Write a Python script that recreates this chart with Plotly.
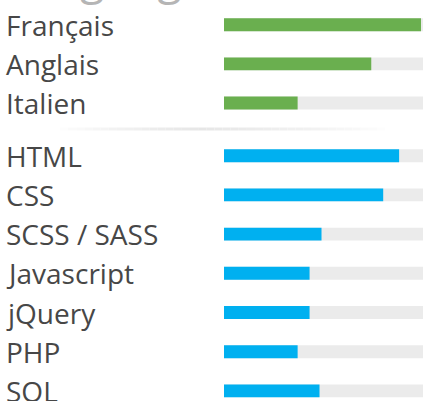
import plotly.graph_objects as go

W, H = 423, 401

title_text = "Languages"
lang_labels = ["Français", "Anglais", "Italien"]
lang_values = [99, 74, 37]
skill_labels = ["HTML", "CSS", "SCSS / SASS", "Javascript", "jQuery", "PHP", "SOL"]
skill_values = [88, 80, 49, 43, 43, 37, 48]
scale_max = 100

GREEN = "#6aaf4f"
BLUE = "#00b0f0"
TRACK = "#ebebeb"
TEXT = "#474747"
FONT = "Open Sans"

fig = go.Figure()

def add_group(labels, values, color, yaxis):
    xa = "x" if yaxis == "y" else "x2"
    fig.add_trace(go.Bar(
        y=labels, x=[scale_max] * len(labels), orientation="h",
        marker=dict(color=TRACK, line=dict(width=0)), width=0.33,
        xaxis=xa, yaxis=yaxis, hoverinfo="skip", showlegend=False))
    fig.add_trace(go.Bar(
        y=labels, x=values, orientation="h",
        marker=dict(color=color, line=dict(width=0)), width=0.33,
        xaxis=xa, yaxis=yaxis, showlegend=False))

add_group(lang_labels, lang_values, GREEN, "y")
add_group(skill_labels, skill_values, BLUE, "y2")

x0 = 224 / W
top_dom = [(H - 122.6) / H, (H - 5.1) / H]
bot_dom = [0, (H - 136.1) / H]
bot_units = (H - 136.1) / 39.2

axis_common = dict(showgrid=False, zeroline=False, showticklabels=False,
                   showline=False, ticks="")
fig.update_layout(
    width=W, height=H,
    margin=dict(l=0, r=0, t=0, b=0),
    paper_bgcolor="white", plot_bgcolor="white",
    barmode="overlay",
    xaxis=dict(domain=[x0, 1], range=[0, scale_max], anchor="y", **axis_common),
    xaxis2=dict(domain=[x0, 1], range=[0, scale_max], anchor="y2", **axis_common),
    yaxis=dict(domain=top_dom, range=[2.5, -0.5], type="category", anchor="x", **axis_common),
    yaxis2=dict(domain=bot_dom, range=[-0.5 + bot_units, -0.5], type="category", anchor="x2", **axis_common),
    font=dict(family=FONT),
)

annotations = []
for lab in lang_labels:
    annotations.append(dict(x=4 / W, xref="paper", y=lab, yref="y", text=lab,
                            showarrow=False, xanchor="left", yanchor="middle",
                            font=dict(family=FONT, size=28, color=TEXT)))
for lab in skill_labels:
    annotations.append(dict(x=4 / W, xref="paper", y=lab, yref="y2", text=lab,
                            showarrow=False, xanchor="left", yanchor="middle",
                            font=dict(family=FONT, size=28, color=TEXT)))
annotations.append(dict(x=2 / W, xref="paper", y=1, yref="paper", text=title_text,
                        showarrow=False, xanchor="left", yanchor="bottom", yshift=-9,
                        font=dict(family=FONT, size=45, color="#b5b5b5")))
fig.update_layout(annotations=annotations)

# separator line with fading ends
shapes = []
xs, xe, peak = 60, 385, 200
n = 40
for i in range(n):
    a = xs + (xe - xs) * i / n
    b = xs + (xe - xs) * (i + 1) / n
    m = (a + b) / 2
    if m < peak:
        t = (m - xs) / (peak - xs)
    else:
        t = (xe - m) / (xe - peak)
    t = max(0.0, min(1.0, t)) ** 0.7
    g = int(round(255 - (255 - 230) * t))
    shapes.append(dict(type="line", xref="paper", yref="paper",
                       x0=a / W, x1=b / W, y0=(H - 129) / H, y1=(H - 129) / H,
                       line=dict(color=f"rgb({g},{g},{g})", width=3)))
fig.update_layout(shapes=shapes)

fig.write_html("out.html", config={"displayModeBar": False},
               post_script="document.body.style.margin='0';document.body.style.overflow='hidden';")
